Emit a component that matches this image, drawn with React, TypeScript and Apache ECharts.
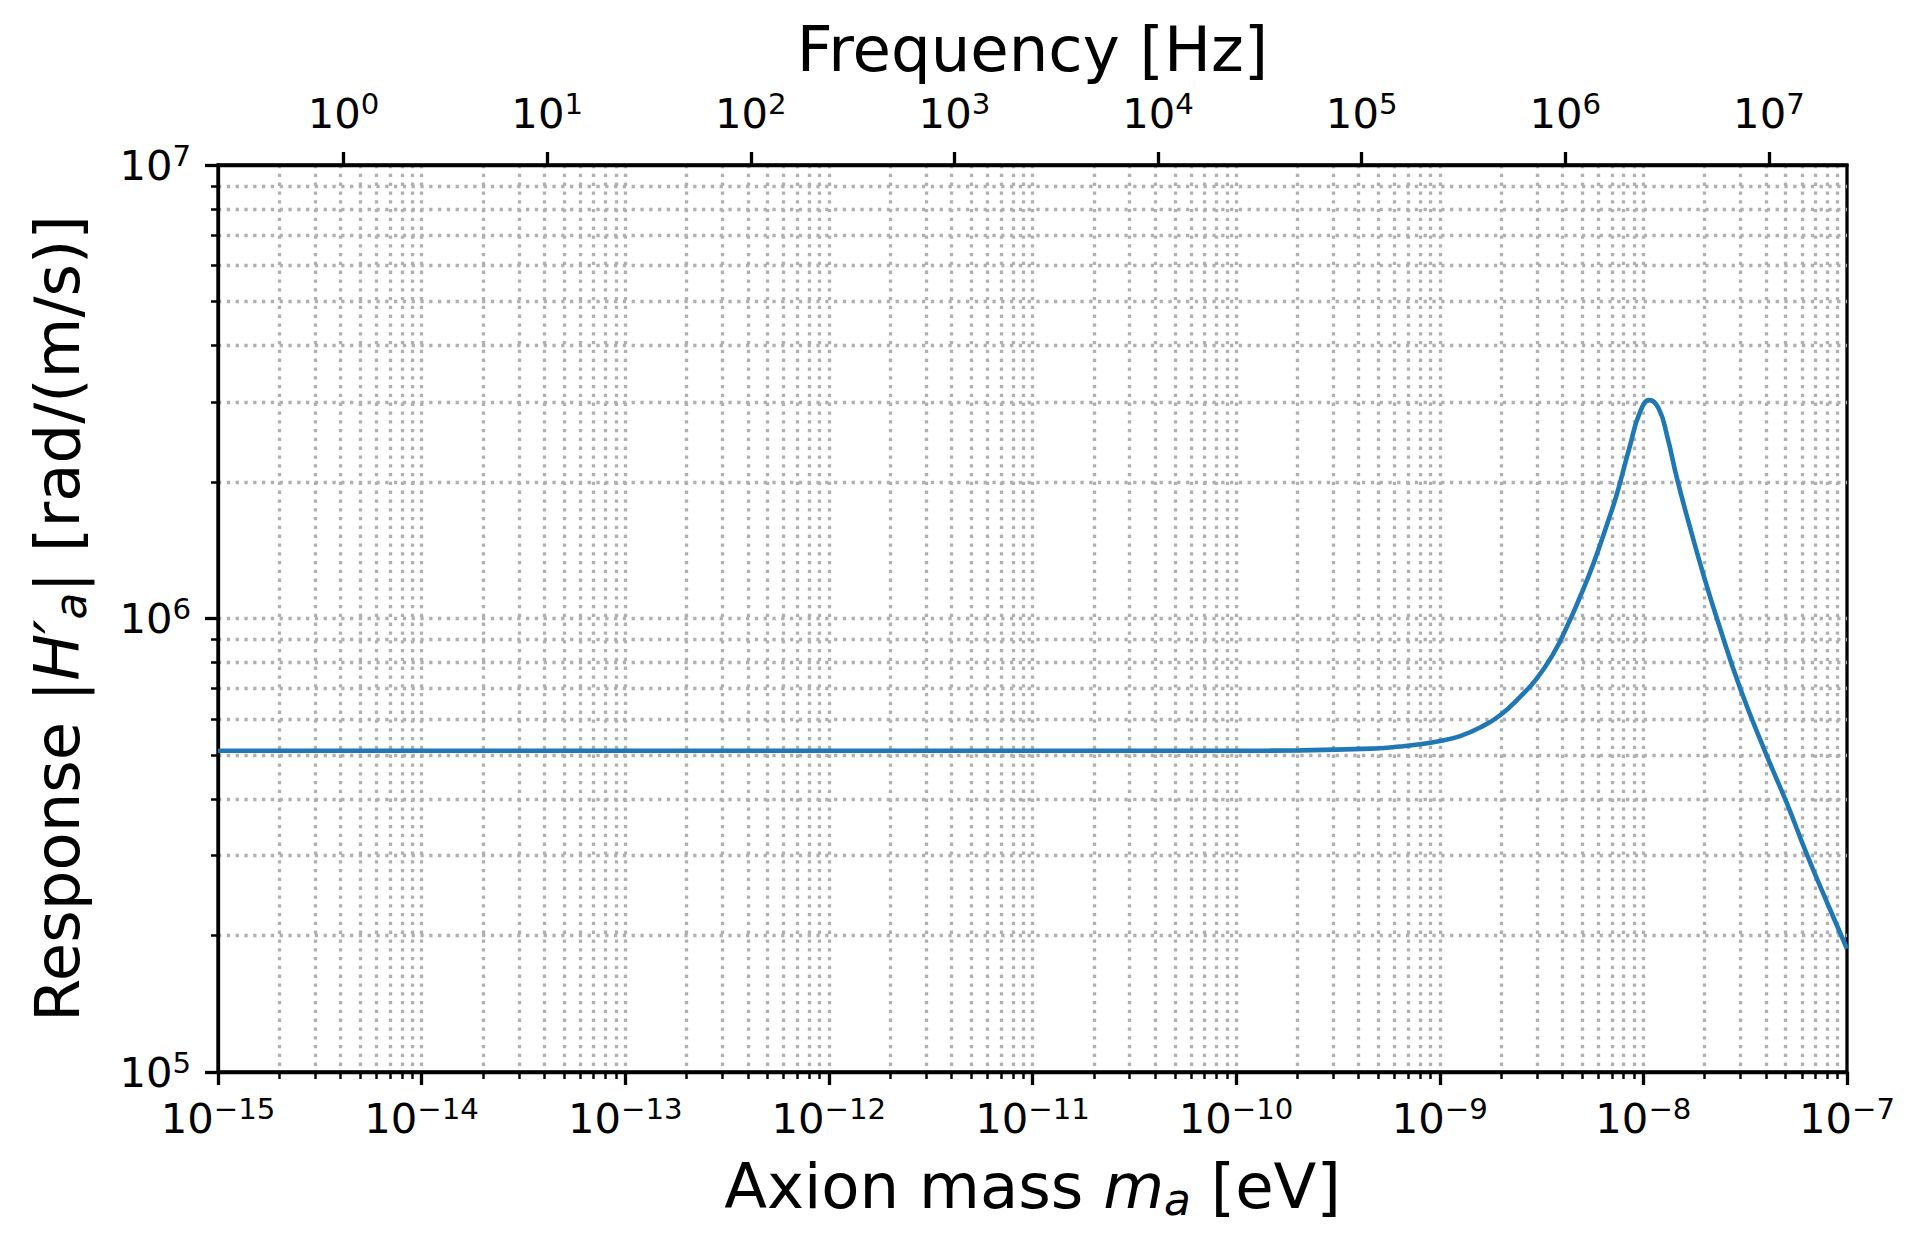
import React, { useEffect, useRef } from "react";
import * as echarts from "echarts";

// ---- data ----
const MASS_EV = [
  1e-15, 1e-14, 1e-13, 1e-12, 1e-11, 1e-10, 2.06e-10, 4.81e-10, 6.39e-10,
  8.01e-10, 1.004e-9, 1.259e-9, 1.579e-9, 1.979e-9, 2.482e-9, 3.0e-9,
  3.62e-9, 4.21e-9, 4.89e-9, 5.69e-9, 6.74e-9, 7.41e-9, 8.61e-9, 9.65e-9,
  1.072e-8, 1.187e-8, 1.305e-8, 1.462e-8, 1.7e-8, 1.975e-8, 2.339e-8,
  2.99e-8, 4.04e-8, 5.07e-8, 6.36e-8, 7.97e-8, 1e-7,
];
const RESPONSE = [
  5.11e5, 5.11e5, 5.11e5, 5.11e5, 5.11e5, 5.11e5, 5.12e5, 5.17e5, 5.22e5,
  5.28e5, 5.37e5, 5.505e5, 5.75e5, 6.12e5, 6.72e5, 7.38e5,
  8.375e5, 9.59e5, 1.117e6, 1.323e6, 1.649e6, 1.88e6, 2.413e6, 2.858e6,
  3.03e6, 2.908e6, 2.538e6, 2.037e6, 1.58e6, 1.246e6, 9.75e5,
  7.01e5, 4.98e5, 3.91e5, 3.015e5, 2.368e5, 1.87e5,
];

// axis ranges and ticks
const X_MIN = 1e-15;
const X_MAX = 1e-7;
const Y_MIN = 1e5;
const Y_MAX = 1e7;
const EV_TO_HZ = 2.417989e14; // f = m c^2 / h
const X_DECADES = [-15, -14, -13, -12, -11, -10, -9, -8, -7];
const Y_DECADES = [5, 6, 7];
const FREQ_DECADES = [0, 1, 2, 3, 4, 5, 6, 7];
const MINOR_FACTORS = [2, 3, 4, 5, 6, 7, 8, 9];

const FONT = "DejaVu Sans";

const pow10 = (e: number) => Number(`1e${e}`);
const minorsOf = (decades: number[]) => {
  const out: number[] = [];
  decades.slice(0, -1).forEach((e) => {
    MINOR_FACTORS.forEach((k) => out.push(Number(`${k}e${e}`)));
  });
  return out;
};

const xMajor = X_DECADES.map(pow10);
const xGridVals = [...X_DECADES.slice(1, -1).map(pow10), ...minorsOf(X_DECADES)];
const yMajor = Y_DECADES.map(pow10);
const yGridVals = [...Y_DECADES.slice(1, -1).map(pow10), ...minorsOf(Y_DECADES)];
const freqMajor = FREQ_DECADES.map(pow10);

const fmt = (v: number) => {
  const e = Math.round(Math.log10(v));
  return `{b|10}{s|${e < 0 ? "\u2212" + -e : e}}`;
};

const tickRich = {
  b: { fontSize: 41.7, lineHeight: 48, fontFamily: FONT, color: "#000" },
  s: {
    fontSize: 29.2,
    lineHeight: 32,
    fontFamily: FONT,
    color: "#000",
    verticalAlign: "top",
  },
};

const nameStyle = {
  fontFamily: FONT,
  fontSize: 62.5,
  lineHeight: 70,
  color: "#000",
  rich: {
    i: { fontFamily: FONT, fontSize: 62.5, lineHeight: 70, fontStyle: "italic", color: "#000" },
    sub: {
      fontFamily: FONT,
      fontSize: 43.75,
      lineHeight: 37,
      fontStyle: "italic",
      color: "#000",
      verticalAlign: "bottom",
    },
  },
};

const gridLine = { color: "#b0b0b0", width: 3.3, type: [3.3, 5.5] };
const spine = { color: "#000", width: 3.3 };

export default function App() {
  const ref = useRef<HTMLDivElement>(null);

  useEffect(() => {
    if (!ref.current) return;
    const chart = echarts.init(ref.current, undefined, { renderer: "svg" });
    const option: any = {
      animation: false,
      backgroundColor: "#fff",
      grid: {
        left: 218,
        top: 165,
        width: 1629,
        height: 907,
        show: true,
        borderColor: "#000",
        borderWidth: 3.3,
        backgroundColor: "transparent",
        containLabel: false,
        outerBoundsMode: "none",
      },
      xAxis: [
        {
          type: "log",
          logBase: 10,
          min: X_MIN,
          max: X_MAX,
          position: "bottom",
          axisLine: { show: true, onZero: false, lineStyle: spine },
          axisTick: { show: true, inside: false, length: 13, lineStyle: spine, customValues: xMajor },
          axisLabel: { show: true, margin: 22, customValues: xMajor, formatter: fmt, rich: tickRich },
          splitLine: { show: false },
          minorTick: { show: false },
          minorSplitLine: { show: false },
          name: "Axion mass {i|m}{sub|a} [eV]",
          nameLocation: "middle",
          nameGap: 79,
          nameTextStyle: nameStyle,
        },
        {
          type: "log",
          logBase: 10,
          min: X_MIN,
          max: X_MAX,
          position: "bottom",
          axisLine: { show: false, onZero: false },
          axisTick: {
            show: true,
            inside: false,
            length: 7,
            lineStyle: { color: "#000", width: 2.5 },
            customValues: xGridVals,
          },
          axisLabel: { show: false },
          splitLine: { show: true, lineStyle: gridLine },
          minorTick: { show: false },
          minorSplitLine: { show: false },
        },
        {
          type: "log",
          logBase: 10,
          min: X_MIN * EV_TO_HZ,
          max: X_MAX * EV_TO_HZ,
          position: "top",
          axisLine: { show: true, onZero: false, lineStyle: spine },
          axisTick: { show: true, inside: false, length: 13, lineStyle: spine, customValues: freqMajor },
          axisLabel: { show: true, margin: 28, customValues: freqMajor, formatter: fmt, rich: tickRich },
          splitLine: { show: false },
          minorTick: { show: false },
          name: "Frequency [Hz]",
          nameLocation: "middle",
          nameGap: 72,
          nameTextStyle: nameStyle,
        },
      ],
      yAxis: [
        {
          type: "log",
          logBase: 10,
          min: Y_MIN,
          max: Y_MAX,
          position: "left",
          axisLine: { show: true, onZero: false, lineStyle: spine },
          axisTick: { show: true, inside: false, length: 13, lineStyle: spine, customValues: yMajor },
          axisLabel: { show: true, margin: 27, customValues: yMajor, formatter: fmt, rich: tickRich },
          splitLine: { show: false },
          minorTick: { show: false },
          name: "Response |{i|H\u2032}{sub|a}| [rad/(m/s)]",
          nameLocation: "middle",
          nameRotate: 90,
          nameGap: 126,
          nameTextStyle: nameStyle,
        },
        {
          type: "log",
          logBase: 10,
          min: Y_MIN,
          max: Y_MAX,
          position: "left",
          axisLine: { show: false, onZero: false },
          axisTick: {
            show: true,
            inside: false,
            length: 7,
            lineStyle: { color: "#000", width: 2.5 },
            customValues: yGridVals,
          },
          axisLabel: { show: false },
          splitLine: { show: true, lineStyle: gridLine },
          minorTick: { show: false },
        },
      ],
      series: [
        {
          type: "line",
          xAxisIndex: 0,
          yAxisIndex: 0,
          data: MASS_EV.map((m, i) => [m, RESPONSE[i]]),
          showSymbol: false,
          symbol: "none",
          smooth: 0.5,
          lineStyle: { color: "#1f77b4", width: 4.6 },
          silent: true,
          z: 5,
        },
      ],
    };
    chart.setOption(option);
    return () => chart.dispose();
  }, []);

  return (
    <div
      ref={ref}
      style={{ position: "absolute", left: 0, top: 0, width: 1923, height: 1251, background: "#fff" }}
    />
  );
}
